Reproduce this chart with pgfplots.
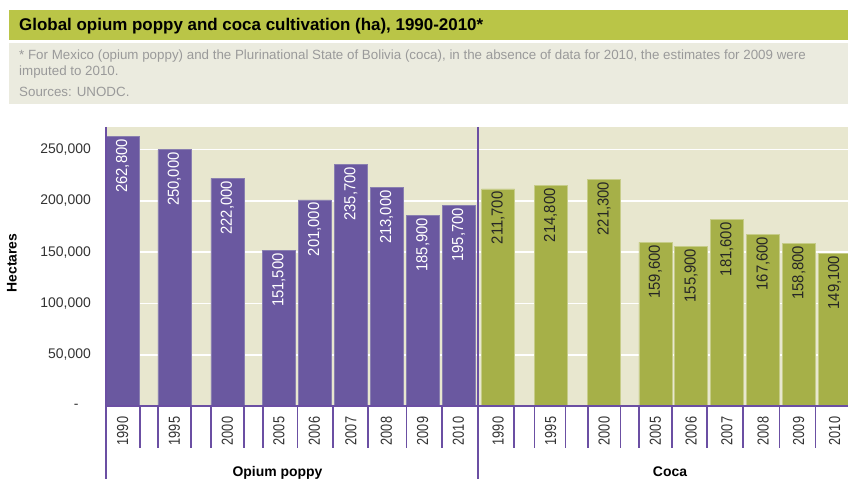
\documentclass[border=0pt]{standalone}
\usepackage{fontspec}
\setmainfont{Liberation Sans}
\newfontfamily\yearfont[FakeStretch=0.8]{Liberation Sans}
\newfontfamily\barfont[FakeStretch=0.93]{Liberation Sans}
\usepackage{pgfplots}
\pgfplotsset{compat=1.18}
\definecolor{purp}{HTML}{6A58A0}
\definecolor{purpedge}{HTML}{8A80B0}
\definecolor{purpline}{HTML}{6B4FA3}
\definecolor{grn}{HTML}{A6B048}
\definecolor{grnedge}{HTML}{C6CC88}
\definecolor{titlegreen}{HTML}{BAC547}
\definecolor{notebg}{HTML}{EBEBDF}
\definecolor{notegrey}{HTML}{9A9A9A}
\definecolor{plotbg}{HTML}{E8E7CF}
\definecolor{ticktext}{HTML}{333333}
\begin{document}
\begin{tikzpicture}
\begin{scope}[x=1bp,y=-1bp]
\fill[white] (0,0) rectangle (848,479);
\fill[titlegreen] (9,10) rectangle (848,40);
\node[anchor=base west, inner sep=0] at (19,31) {\fontsize{17}{20}\selectfont\bfseries Global opium poppy and coca cultivation (ha), 1990-2010*};
\fill[notebg] (9,43) rectangle (848,104);
\node[anchor=base west, inner sep=0, text=notegrey] at (19,60) {\fontsize{13.4}{15}\selectfont * For Mexico (opium poppy) and the Plurinational State of Bolivia (coca), in the absence of data for 2010, the estimates for 2009 were};
\node[anchor=base west, inner sep=0, text=notegrey] at (19,76) {\fontsize{13.4}{15}\selectfont imputed to 2010.};
\node[anchor=base west, inner sep=0, text=notegrey] at (19,97) {\fontsize{13.4}{15}\selectfont Sources: UNODC.};
\node[rotate=90, inner sep=0] at (12,263) {\fontsize{14}{16}\selectfont\bfseries Hectares};
\end{scope}
\begin{axis}[
  at={(106bp,-406bp)}, anchor=south west,
  scale only axis, width=742bp, height=279bp,
  xmin=106, xmax=848, ymin=0, ymax=272000,
  axis line style={draw=none},
  axis background/.style={fill=plotbg},
  ymajorgrids, grid style={white, line width=1.6bp},
  major tick length=0,
  scaled y ticks=false,
  /pgf/number format/assume math mode=true,
  ytick={0,50000,100000,150000,200000,250000},
  yticklabels={{\makebox[17bp][l]{-}},{50,000},{100,000},{150,000},{200,000},{250,000}},
  yticklabel style={anchor=east, inner sep=0pt, xshift=-15bp, text=ticktext, font=\fontsize{14}{16}\selectfont},
  xtick={122.7,174.4,227.3,278.8,314.5,350.8,386.5,422.7,458.5,498,550.5,604,655.4,691,726.8,763,798.7,834.5},
  xticklabels={1990,1995,2000,2005,2006,2007,2008,2009,2010,1990,1995,2000,2005,2006,2007,2008,2009,2010},
  xticklabel style={yshift=-25bp, rotate=90, anchor=center, inner sep=0pt, text=ticktext, font=\yearfont\fontsize{16}{16}\selectfont},
]
\addplot[ybar, bar shift=0pt, bar width=33, fill=purp, draw=purpedge, line width=0.6bp,
  nodes near coords={\pgfmathprintnumber[fixed,precision=0,1000 sep={,}]{\pgfplotspointmeta}},
  every node near coord/.append style={rotate=90, anchor=east, inner xsep=2.5bp, text=white, font=\barfont\fontsize{16}{16}\selectfont}]
coordinates {(122.7,262800) (174.4,250000) (227.3,222000) (278.8,151500) (314.5,201000) (350.8,235700) (386.5,213000) (422.7,185900) (458.5,195700)};
\addplot[ybar, bar shift=0pt, bar width=33, fill=grn, draw=grnedge, line width=0.6bp,
  nodes near coords={\pgfmathprintnumber[fixed,precision=0,1000 sep={,}]{\pgfplotspointmeta}},
  every node near coord/.append style={rotate=90, anchor=east, inner xsep=2.5bp, text=black!85, font=\barfont\fontsize{16}{16}\selectfont}]
coordinates {(498,211700) (550.5,214800) (604,221300) (655.4,159600) (691,155900) (726.8,181600) (763,167600) (798.7,158800) (834.5,149100)};
\end{axis}
\begin{scope}[x=1bp,y=-1bp]
\draw[purpline, line width=1.3bp] (106,127) -- (106,479);
\draw[purpline, line width=1.3bp] (478,127) -- (478,479);
\draw[purpline, line width=1.3bp] (106,406) -- (848,406);
\foreach \xx in {140,158,191,211,244,263,297.5,333,368,406.5,442,514,534.5,565.5,588,620.5,639,672,707,743,779.5,815.5}
  \draw[purpline, line width=1.3bp] (\xx,406) -- (\xx,448);
\node[anchor=base, inner sep=0] at (277.5,476.7) {\fontsize{14}{16}\selectfont\bfseries Opium poppy};
\node[anchor=base, inner sep=0] at (670,476.7) {\fontsize{14}{16}\selectfont\bfseries Coca};
\pgfresetboundingbox
\path[use as bounding box] (0,0) rectangle (848,479);
\end{scope}
\end{tikzpicture}
\end{document}
